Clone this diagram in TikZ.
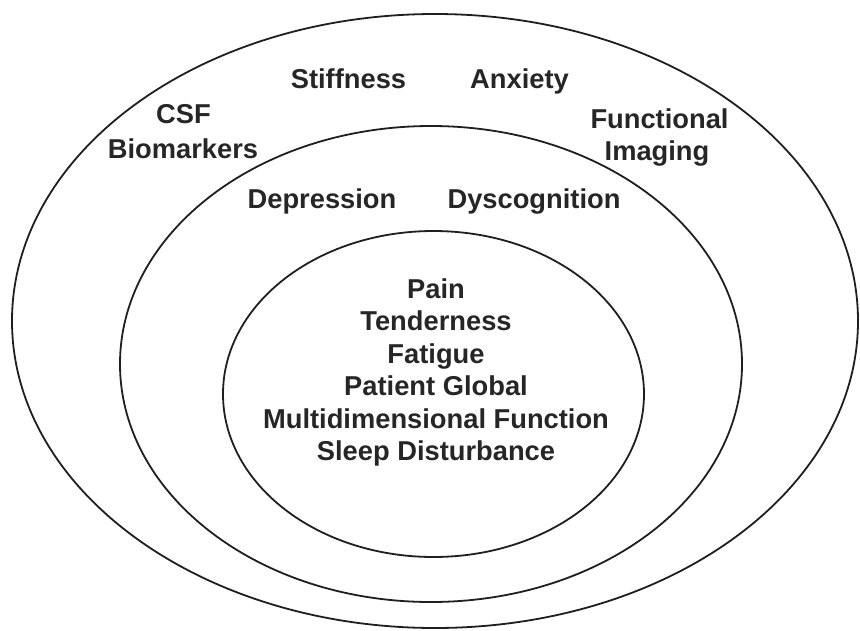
\documentclass[tikz,border=0pt]{standalone}
\usepackage{fontspec}
\setmainfont{Liberation Sans}
\begin{document}
\begin{tikzpicture}[x=1pt,y=-1pt,
  ring/.style={draw=black!88, line width=1.8pt},
  lbl/.style={anchor=base, inner sep=0pt, text=black!85, font=\fontsize{27.3}{32.5}\selectfont\bfseries}]
\useasboundingbox[fill=white] (0,0) rectangle (860,630);
\draw[ring] (435,321) ellipse [x radius=423pt, y radius=307pt];
\draw[ring] (431,364) ellipse [x radius=311pt, y radius=238pt];
\draw[ring] (433.5,394) ellipse [x radius=210.5pt, y radius=163pt];
% outer ring labels
\node[lbl] (stiff) at (348.5,88) {Stiffness};
\node[lbl] (anx) at (519.5,88) {Anxiety};
\node[lbl] (csf) at (183.5,123) {CSF};
\node[lbl] (bio) at (183,158) {Biomarkers};
\node[lbl] (func) at (659.5,128) {Functional};
\node[lbl] (img) at (657,160) {Imaging};
% middle ring labels
\node[lbl] (dep) at (322,208) {Depression};
\node[lbl] (dys) at (534,208) {Dyscognition};
% core labels
\node[lbl] (c1) at (436,298) {Pain};
\node[lbl] (c2) at (436,330.5) {Tenderness};
\node[lbl] (c3) at (436,363) {Fatigue};
\node[lbl] (c4) at (436,395.5) {Patient Global};
\node[lbl] (c5) at (436,428) {Multidimensional Function};
\node[lbl] (c6) at (436,460.5) {Sleep Disturbance};
\end{tikzpicture}
\end{document}
